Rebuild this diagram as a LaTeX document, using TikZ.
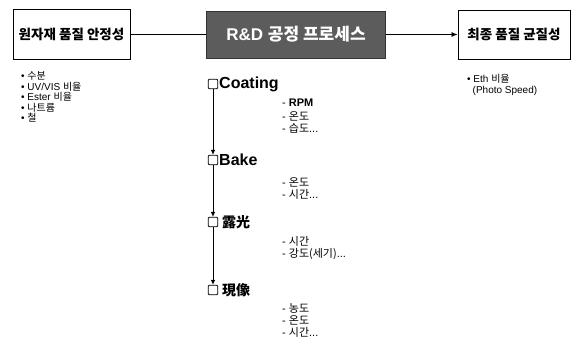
\documentclass[tikz,border=0pt]{standalone}
\usepackage{fontspec}
\setmainfont{Liberation Sans}
\newfontfamily\kr{Noto Sans CJK KR}
\usetikzlibrary{arrows.meta}
\begin{document}
\begin{tikzpicture}[x=1pt,y=-1pt,
  box/.style={draw, line width=0.9pt, inner sep=0pt},
  ttl/.style={font=\fontsize{13.5}{15}\selectfont\kr\bfseries},
  proc/.style={draw=black!80, line width=0.8pt, fill=black!64, text=white, inner sep=0pt, font=\fontsize{17}{19}\selectfont\bfseries},
  bul/.style={anchor=west, inner sep=0pt, font=\fontsize{10}{11}\selectfont},
  chk/.style={draw, line width=0.9pt, rounded corners=1pt, minimum size=9.5pt, inner sep=0pt},
  lbl/.style={anchor=west, inner sep=0pt, font=\fontsize{16}{18}\selectfont\bfseries},
  cjk/.style={anchor=west, inner sep=0pt, font=\fontsize{14}{16}\selectfont\kr\bfseries},
  sub/.style={anchor=west, inner sep=0pt, font=\fontsize{11}{12}\selectfont},
  conn/.style={line width=0.8pt},
  flow/.style={line width=0.7pt, -{Latex[length=5pt,width=4.5pt]}}
]
\path[use as bounding box, fill=white] (0,0) rectangle (573,342);

\node[box, ttl, minimum width=117pt, minimum height=50pt] (raw) at (71.5,34.5) {원자재 품질 안정성};
\node[proc, minimum width=179pt, minimum height=47pt] (proc) at (296,34.5) {R\&D {\kr 공정 프로세스}};
\node[box, ttl, minimum width=112pt, minimum height=49pt] (final) at (514,34.5) {최종 품질 균질성};
\draw[conn] (raw.east) -- (proc.west);
\draw[conn, -{Latex[length=6pt,width=5pt]}] (proc.east) -- (final.west);

\node[bul] (b1) at (21,76) {• {\kr 수분}};
\node[bul] (b2) at (21,86.5) {• UV/VIS {\kr 비율}};
\node[bul] (b3) at (21,97) {• Ester {\kr 비율}};
\node[bul] (b4) at (21,107.5) {• {\kr 나트륨}};
\node[bul] (b5) at (21,118) {• {\kr 철}};

\node[bul] (e1) at (467,79) {• Eth {\kr 비율}};
\node[bul] (e2) at (472.5,90.5) {(Photo Speed)};

\node[chk] (k1) at (213,84) {};
\node[lbl] (l1) at (219,84) {Coating};
\node[chk] (k2) at (213,160) {};
\node[lbl] (l2) at (219,160) {Bake};
\node[chk] (k3) at (213,222) {};
\node[cjk] (l3) at (222,222) {露光};
\node[chk] (k4) at (213,290) {};
\node[cjk] (l4) at (222,290) {現像};

\draw[flow] (k1.south) -- (k2.north);
\draw[flow] (k2.south) -- (k3.north);
\draw[flow] (k3.south) -- (k4.north);

\node[sub] (s11) at (282,103) {- \textbf{RPM}};
\node[sub] (s12) at (282,116) {- {\kr 온도}};
\node[sub] (s13) at (282,128) {- {\kr 습도}...};
\node[sub] (s21) at (282,182) {- {\kr 온도}};
\node[sub] (s22) at (282,194) {- {\kr 시간}...};
\node[sub] (s31) at (282,241.5) {- {\kr 시간}};
\node[sub] (s32) at (282,254) {- {\kr 강도(세기)}...};
\node[sub] (s41) at (282,308) {- {\kr 농도}};
\node[sub] (s42) at (282,320) {- {\kr 온도}};
\node[sub] (s43) at (282,332) {- {\kr 시간}...};
\end{tikzpicture}
\end{document}
